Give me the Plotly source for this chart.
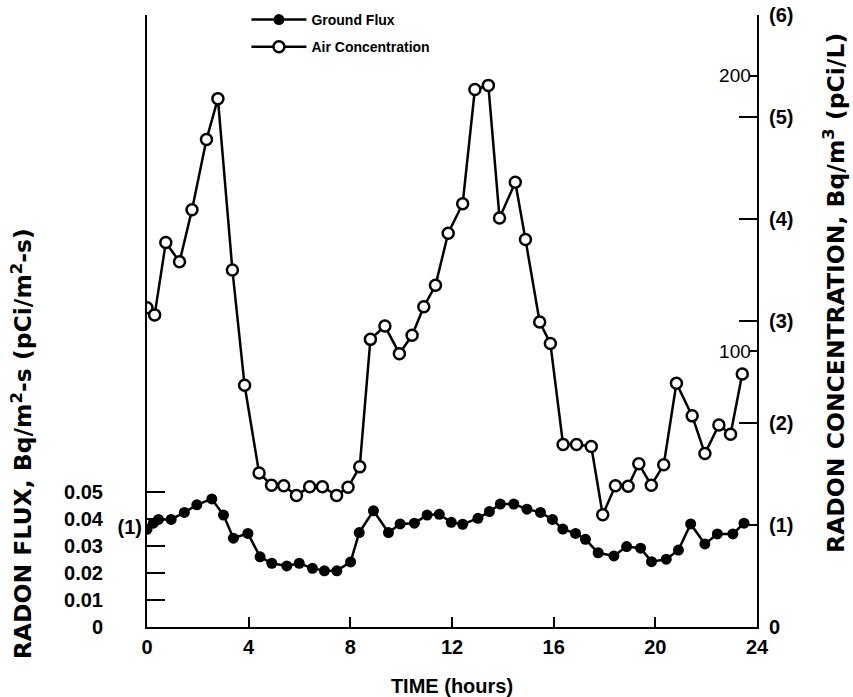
import plotly.graph_objects as go

# Radon ground flux, Bq/m^2-s, against time of day (hours)
flux_hours = [0.0, 0.25, 0.45, 0.95, 1.47, 1.96, 2.55, 3.01, 3.40, 3.97,
              4.45, 4.91, 5.50, 5.99, 6.51, 6.98, 7.47, 8.01, 8.35, 8.91,
              9.50, 9.96, 10.52, 11.02, 11.50, 11.97, 12.42, 13.02, 13.47, 13.90,
              14.43, 14.95, 15.48, 15.95, 16.36, 16.86, 17.25, 17.75, 18.37, 18.87,
              19.42, 19.85, 20.43, 20.91, 21.39, 21.95, 22.44, 23.05, 23.49]
flux_values = [0.0363, 0.0386, 0.0400, 0.0400, 0.0426, 0.0454, 0.0476, 0.0416, 0.0330, 0.0348,
               0.0261, 0.0237, 0.0227, 0.0237, 0.0218, 0.0209, 0.0209, 0.0242, 0.0351, 0.0432,
               0.0351, 0.0383, 0.0386, 0.0416, 0.0419, 0.0389, 0.0382, 0.0404, 0.0429, 0.0457,
               0.0457, 0.0438, 0.0426, 0.0400, 0.0364, 0.0348, 0.0326, 0.0276, 0.0264, 0.0299,
               0.0293, 0.0243, 0.0252, 0.0286, 0.0383, 0.0309, 0.0346, 0.0346, 0.0386]

# Radon air concentration, pCi/L, against time of day (hours)
air_hours = [0.0, 0.30, 0.74, 1.28, 1.77, 2.34, 2.79, 3.36, 3.84, 4.41,
             4.90, 5.38, 5.88, 6.40, 6.90, 7.46, 7.91, 8.37, 8.79, 9.36,
             9.93, 10.43, 10.89, 11.35, 11.85, 12.42, 12.90, 13.43, 13.87, 14.49,
             14.89, 15.45, 15.87, 16.37, 16.90, 17.48, 17.93, 18.43, 18.93, 19.35,
             19.84, 20.33, 20.83, 21.45, 21.95, 22.50, 22.96, 23.42]
air_pci = [3.13, 3.06, 3.77, 3.58, 4.09, 4.78, 5.18, 3.50, 2.37, 1.51,
           1.39, 1.385, 1.29, 1.375, 1.375, 1.29, 1.37, 1.57, 2.82, 2.95,
           2.68, 2.86, 3.14, 3.35, 3.86, 4.15, 5.27, 5.31, 4.01, 4.36,
           3.80, 2.99, 2.78, 1.79, 1.79, 1.77, 1.10, 1.385, 1.38, 1.60,
           1.39, 1.59, 2.39, 2.07, 1.70, 1.98, 1.89, 2.48]

# Axis ticks
time_ticks = [0, 4, 8, 12, 16, 20, 24]
flux_ticks = [0, 0.01, 0.02, 0.03, 0.04, 0.05]
flux_tick_text = ["0", "0.01", "0.02", "0.03", "0.04", "0.05"]
flux_pci_ticks = [1]
flux_pci_text = ["(1)"]
air_pci_ticks = [0, 1, 2, 3, 4, 5, 6]
air_pci_text = ["0", "(1)", "(2)", "(3)", "(4)", "(5)", "(6)"]
air_bq_ticks = [100, 200]

BQ_PER_PCI = 37.0
FLUX_TOP = 0.2275          # Bq/m^2-s at top of the frame
AIR_TOP = 6.0              # pCi/L at top of the frame

# the same series in the alternate units (pCi/m^2-s and Bq/m^3)
flux_pci = [v / BQ_PER_PCI * 1000 for v in flux_values]
air_bq = [v * BQ_PER_PCI for v in air_pci]

FONT = "Liberation Sans, Arial, Helvetica, sans-serif"
BOLD = dict(family=FONT, size=20, color="black", weight="bold")
TITLE_FONT = dict(family="DejaVu Sans, Verdana, sans-serif", size=23.5,
                  color="black", weight="bold")

fig = go.Figure()

fig.add_trace(go.Scatter(
    x=flux_hours, y=flux_values, name="Ground Flux", yaxis="y",
    mode="lines+markers",
    line=dict(color="black", width=2.5),
    marker=dict(symbol="circle", size=11, color="black"),
    legendgroup="g1",
))
fig.add_trace(go.Scatter(
    x=air_hours, y=air_pci, name="Air Concentration", yaxis="y2",
    mode="lines+markers",
    line=dict(color="black", width=2.5),
    marker=dict(symbol="circle", size=11, color="white",
                line=dict(color="black", width=2.5)),
    legendgroup="g2",
))
# secondary unit scales carry the same series, drawn transparent
fig.add_trace(go.Scatter(x=flux_hours, y=flux_pci, yaxis="y4", mode="lines",
                         line=dict(width=0), opacity=0, showlegend=False,
                         hoverinfo="skip"))
fig.add_trace(go.Scatter(x=air_hours, y=air_bq, yaxis="y3", mode="lines",
                         line=dict(width=0), opacity=0, showlegend=False,
                         hoverinfo="skip"))

axis_common = dict(showgrid=False, zeroline=False, showline=True, automargin=False,
                   linecolor="black", linewidth=2, tickcolor="black", tickwidth=2)

fig.update_layout(
    width=853, height=697,
    margin=dict(l=147, r=96, t=15, b=70, autoexpand=False),
    paper_bgcolor="white", plot_bgcolor="white",
    font=dict(family=FONT, color="black"),
    xaxis=dict(**axis_common, range=[0, 24], tickmode="array", tickvals=time_ticks,
               ticks="inside", ticklen=10, tickfont=BOLD, ticklabelstandoff=1,
               ticklabeloverflow="allow",
               title=dict(text="TIME (hours)", font=BOLD, standoff=31)),
    yaxis=dict(**axis_common, range=[0, FLUX_TOP], tickmode="array",
               tickvals=flux_ticks, ticktext=flux_tick_text,
               ticks="inside", ticklen=18, tickfont=BOLD, ticklabelstandoff=38,
               ticklabeloverflow="allow"),
    yaxis4=dict(range=[0, FLUX_TOP / BQ_PER_PCI * 1000], overlaying="y", side="left",
                anchor="x", showgrid=False, zeroline=False, showline=False,
                automargin=False, tickmode="array", tickvals=flux_pci_ticks,
                ticktext=flux_pci_text, ticks="", tickfont=BOLD, ticklabelstandoff=4,
                ticklabeloverflow="allow"),
    yaxis2=dict(**axis_common, range=[0, AIR_TOP], overlaying="y", side="right",
                anchor="x", tickmode="array", tickvals=air_pci_ticks,
                ticktext=air_pci_text, ticks="inside", ticklen=18, tickfont=BOLD,
                ticklabelstandoff=6, ticklabeloverflow="allow"),
    yaxis3=dict(range=[0, AIR_TOP * BQ_PER_PCI], overlaying="y", side="right",
                anchor="x", showgrid=False, zeroline=False, showline=False,
                automargin=False, tickmode="array", tickvals=air_bq_ticks,
                ticks="inside", ticklen=7, tickcolor="black", tickwidth=2,
                ticklabelposition="inside", ticklabeloverflow="allow",
                tickfont=dict(family=FONT, size=19, color="black")),
    legend=dict(x=0.163, y=1.018, xanchor="left", yanchor="top",
                bgcolor="rgba(0,0,0,0)", itemwidth=55, tracegroupgap=6,
                font=dict(family=FONT, size=14, color="black", weight="bold")),
    showlegend=True,
)

fig.add_annotation(text="RADON FLUX, Bq/m<sup>2</sup>-s (pCi/m<sup>2</sup>-s)",
                   xref="paper", yref="paper", x=-0.205, y=0.30,
                   textangle=-90, showarrow=False, xanchor="center", yanchor="middle",
                   font=TITLE_FONT)
fig.add_annotation(text="RADON CONCENTRATION, Bq/m<sup>3</sup> (pCi/L)",
                   xref="paper", yref="paper", x=1.128, y=0.546,
                   textangle=-90, showarrow=False, xanchor="center", yanchor="middle",
                   font=TITLE_FONT)

fig.write_html("out.html")
